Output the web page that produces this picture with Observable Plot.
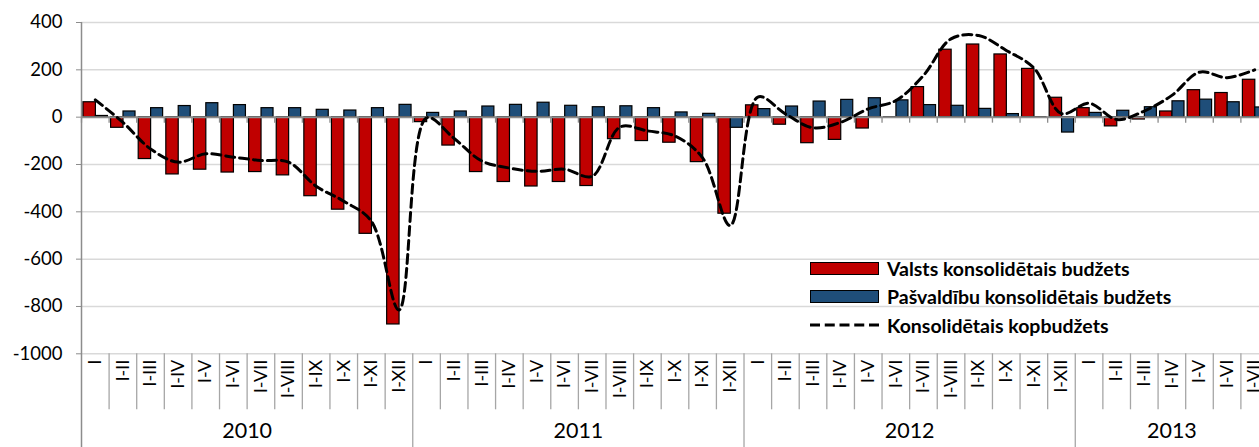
<!DOCTYPE html>
<html>
<head>
<meta charset="utf-8">
<script src="https://cdn.jsdelivr.net/npm/d3@7"></script>
<script src="https://cdn.jsdelivr.net/npm/@observablehq/plot@0.6"></script>
<style>
  html, body { margin: 0; padding: 0; background: #fff; }
  #wrap { position: relative; width: 1259px; height: 447px; overflow: hidden; font-family: Lato, "Noto Sans", sans-serif; }
  #wrap > svg { overflow: hidden; }
  #legend { position: absolute; left: 810px; top: 254px; font-weight: bold; font-size: 19.5px; color: #000; }
  .row { display: flex; align-items: center; height: 28.5px; }
  .sw { width: 67px; height: 11px; border: 1.2px solid #000; margin-right: 8px; }
  .dash { width: 69px; height: 4px; margin-right: 8px; display: block; }
</style>
</head>
<body>
<div id="wrap"></div>
<script>
// ---- data (million EUR, cumulative from January) ----
const years = ["2010", "2011", "2012", "2013"];
const yearCounts = [12, 12, 12, 7];
const periods = ["I", "I-II", "I-III", "I-IV", "I-V", "I-VI", "I-VII", "I-VIII", "I-IX", "I-X", "I-XI", "I-XII"];
const yTicks = [400, 200, 0, -200, -400, -600, -800, -1000];

// Valsts konsolidētais budžets
const stateBudget = [
  63, -45, -177, -242, -222, -234, -232, -246, -334, -391, -493, -876,
  -21, -120, -232, -274, -293, -274, -291, -93, -101, -108, -190, -408,
  50, -32, -110, -96, -48, -2, 127, 285, 307, 265, 204, 82,
  38, -39, -10, 24, 114, 102, 158
];
// Pašvaldību konsolidētais budžets
const localBudget = [
  5, 24, 38, 47, 59, 51, 38, 38, 31, 28, 38, 52,
  18, 24, 45, 52, 61, 48, 42, 46, 38, 20, 14, -45,
  34, 45, 66, 73, 80, 71, 51, 48, 35, 13, -2, -65,
  18, 27, 42, 67, 74, 63, 41
];
// Konsolidētais kopbudžets
const totalBudget = [
  73, -22, -134, -190, -155, -169, -183, -190, -292, -355, -440, -815,
  -3, -90, -185, -215, -229, -220, -250, -42, -58, -80, -172, -458,
  85, 14, -45, -22, 35, 70, 176, 331, 345, 282, 208, 15,
  59, -10, 26, 92, 190, 167, 200
];

// ---- build rows ----
const rows = [];
const yearRows = [];
let idx = 0;
years.forEach((yr, j) => {
  const n = yearCounts[j];
  for (let k = 0; k < n; k++) {
    rows.push({
      key: yr + "|" + periods[k], year: yr, per: periods[k], first: k === 0,
      state: stateBudget[idx], local: localBudget[idx], total: totalBudget[idx]
    });
    idx++;
  }
  yearRows.push({year: yr, even: n % 2 === 0, midKey: yr + "|" + periods[Math.floor(n / 2)]});
});
const keys = rows.map(d => d.key);

// ---- layout ----
const W = 1259, H = 447;
const x0 = 81, x1 = 1268;
const yTop = 22, yBottom = 353.3;
const bw = (x1 - x0) / keys.length;
const axisGray = "#8c8c8c";

const chart = Plot.plot({
  width: W, height: H,
  marginLeft: x0, marginRight: 0, marginTop: yTop, marginBottom: H - yBottom,
  style: {fontFamily: "Lato, 'Noto Sans', sans-serif", background: "white", color: "#000"},
  x: {type: "band", domain: keys, range: [x0, x1], padding: 0, round: false, axis: null},
  y: {domain: [-1000, 400], range: [yBottom, yTop], axis: null},
  marks: [
    Plot.ruleY(yTicks, {stroke: "#d9d9d9", strokeWidth: 1.5}),
    Plot.axisY({ticks: yTicks, tickFormat: d => String(d), tickSize: 5, tickPadding: 14, fontSize: 18.5, stroke: axisGray, fill: "#000", label: null}),
    // category separators in the label band
    Plot.ruleX(rows.filter(d => !d.first), {x: "key", dx: -bw / 2, insetTop: yBottom - yTop, insetBottom: -56, stroke: "#a6a6a6", strokeWidth: 1.3}),
    // year separators
    Plot.ruleX(rows.filter(d => d.first && d.year !== years[0]), {x: "key", dx: -bw / 2, insetTop: yBottom - yTop, insetBottom: -(H - yBottom), stroke: "#a6a6a6", strokeWidth: 1.3}),
    // y axis line
    Plot.ruleX([keys[0]], {dx: -bw / 2, insetBottom: -(H - yBottom), stroke: axisGray, strokeWidth: 1.5}),
    // bars
    Plot.barY(rows, {x: "key", y1: d => 0, y2: "state", fill: "#c00000", stroke: "#000", strokeWidth: 1.2, insetLeft: 2, insetRight: 13.2}),
    Plot.barY(rows, {x: "key", y1: d => 0, y2: "local", fill: "#1f4e79", stroke: "#000", strokeWidth: 1.2, insetLeft: 14.4, insetRight: 1.2}),
    // zero axis + ticks
    Plot.ruleY([0], {stroke: axisGray, strokeWidth: 2}),
    Plot.ruleX(rows, {x: "key", y1: d => 0, y2: d => 0, dx: -bw / 2, insetBottom: -6, stroke: axisGray, strokeWidth: 1.3}),
    // total line
    Plot.line(rows, {x: "key", y: "total", curve: "catmull-rom", stroke: "#000", strokeWidth: 3, strokeDasharray: "9,5"}),
    // category labels
    Plot.axisX({ticks: keys, tickRotate: -90, tickSize: 0, tickPadding: 6, fontSize: 18, tickFormat: k => k.split("|")[1], label: null}),
    // year labels
    Plot.text(yearRows.filter(d => d.even), {x: "midKey", text: "year", frameAnchor: "bottom", dy: 84, dx: -bw / 2, fontSize: 21.5}),
    Plot.text(yearRows.filter(d => !d.even), {x: "midKey", text: "year", frameAnchor: "bottom", dy: 84, fontSize: 21.5})
  ]
});

const wrap = document.getElementById("wrap");
wrap.appendChild(chart);

const legend = document.createElement("div");
legend.id = "legend";
legend.innerHTML = `
  <div class="row"><div class="sw" style="background:#c00000"></div><span>Valsts konsolidētais budžets</span></div>
  <div class="row"><div class="sw" style="background:#1f4e79"></div><span>Pašvaldību konsolidētais budžets</span></div>
  <div class="row"><svg class="dash" viewBox="0 0 69 4"><line x1="0" y1="2" x2="69" y2="2" stroke="#000" stroke-width="3" stroke-dasharray="10,4.75"/></svg><span>Konsolidētais kopbudžets</span></div>`;
wrap.appendChild(legend);
</script>
</body>
</html>
